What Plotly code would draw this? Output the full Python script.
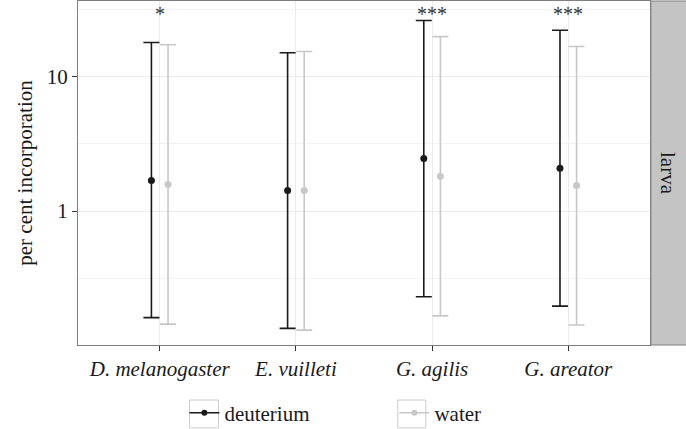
import math
import plotly.graph_objects as go

species = ["D. melanogaster", "E. vuilleti", "G. agilis", "G. areator"]
significance = ["*", "", "***", "***"]

deut_mean = [1.69, 1.42, 2.46, 2.08]
deut_upper = [18.0, 15.1, 26.2, 22.2]
deut_lower = [0.161, 0.134, 0.23, 0.196]

water_mean = [1.58, 1.42, 1.82, 1.55]
water_upper = [17.3, 15.4, 19.9, 16.8]
water_lower = [0.144, 0.130, 0.166, 0.142]

facet_label = "larva"
y_title = "per cent incorporation"

DODGE = 0.061
BLACK = "#1a1a1a"
GREY = "#c8c8c8"
FONT = "Liberation Serif"
FS = 21

fig = go.Figure()

def add_series(name, means, uppers, lowers, color, offset):
    xs = [i + 1 + offset for i in range(len(means))]
    fig.add_trace(go.Scatter(
        x=xs, y=means, mode="markers", name=name, showlegend=False,
        marker=dict(color=color, size=7),
        error_y=dict(type="data", symmetric=False,
                     array=[u - m for u, m in zip(uppers, means)],
                     arrayminus=[m - l for m, l in zip(means, lowers)],
                     color=color, thickness=1.6, width=8),
    ))
    fig.add_trace(go.Scatter(
        x=[None], y=[None], mode="lines+markers", name=name,
        line=dict(color=color, width=1.6), marker=dict(color=color, size=6),
    ))

add_series("deuterium", deut_mean, deut_upper, deut_lower, BLACK, -DODGE)
add_series("water", water_mean, water_upper, water_lower, GREY, DODGE)

for i, s in enumerate(significance):
    if s:
        fig.add_annotation(x=i + 1, y=math.log10(29.5), text=s, showarrow=False,
                           font=dict(family=FONT, size=20, color="#333333"))

# facet strip
fig.add_shape(type="rect", xref="paper", yref="paper", x0=1.0015, x1=1.07,
              y0=0, y1=1, fillcolor="#c4c4c4", line=dict(color="#7f7f7f", width=1),
              layer="below")
fig.add_annotation(xref="paper", yref="paper", x=1.0315, y=0.5, text=facet_label,
                   textangle=90, showarrow=False, xanchor="center", yanchor="middle",
                   font=dict(family=FONT, size=FS, color="#1a1a1a"))

# legend key boxes
for x0, x1 in [(0.195, 0.2456), (0.559, 0.608)]:
    fig.add_shape(type="rect", xref="paper", yref="paper", x0=x0, x1=x1,
                  y0=-0.241, y1=-0.160, line=dict(color="#cccccc", width=1),
                  fillcolor="rgba(0,0,0,0)")

fig.update_layout(
    width=686, height=429,
    margin=dict(l=78, r=36, t=1, b=84, autoexpand=False),
    paper_bgcolor="white", plot_bgcolor="white",
    font=dict(family=FONT, size=FS, color="#1a1a1a"),
    showlegend=True,
    legend=dict(orientation="h", x=0.186, xanchor="left", y=-0.198, yanchor="middle",
                entrywidth=165, entrywidthmode="pixels",
                font=dict(family=FONT, size=FS, color="#1a1a1a"),
                bgcolor="rgba(0,0,0,0)"),
)

fig.update_xaxes(
    range=[0.4, 4.6], tickvals=[1, 2, 3, 4], ticktext=species,
    tickfont=dict(family=FONT, size=FS, style="italic", color="#1a1a1a"),
    showgrid=True, gridcolor="#ebebeb", gridwidth=1,
    showline=True, linecolor="#7f7f7f", linewidth=1, mirror=True,
    ticks="outside", ticklen=5, tickcolor="#333333", zeroline=False,
)
fig.update_yaxes(
    type="log", range=[-0.997, 1.564], tickvals=[1, 10], ticktext=["1", "10"],
    tickfont=dict(family=FONT, size=FS, color="#1a1a1a"),
    showgrid=True, gridcolor="#ebebeb", gridwidth=1,
    minor=dict(tickvals=[0.316, 3.16, 31.6], showgrid=True, gridcolor="#f3f3f3",
               gridwidth=1, ticks=""),
    showline=True, linecolor="#7f7f7f", linewidth=1, mirror=True,
    ticks="outside", ticklen=5, tickcolor="#333333", zeroline=False,
    title=dict(text=y_title, font=dict(family=FONT, size=FS, color="#1a1a1a"), standoff=8),
)

fig.write_html("out.html", config={"displayModeBar": False},
               post_script="document.body.style.margin='0';document.body.style.overflow='hidden';")
